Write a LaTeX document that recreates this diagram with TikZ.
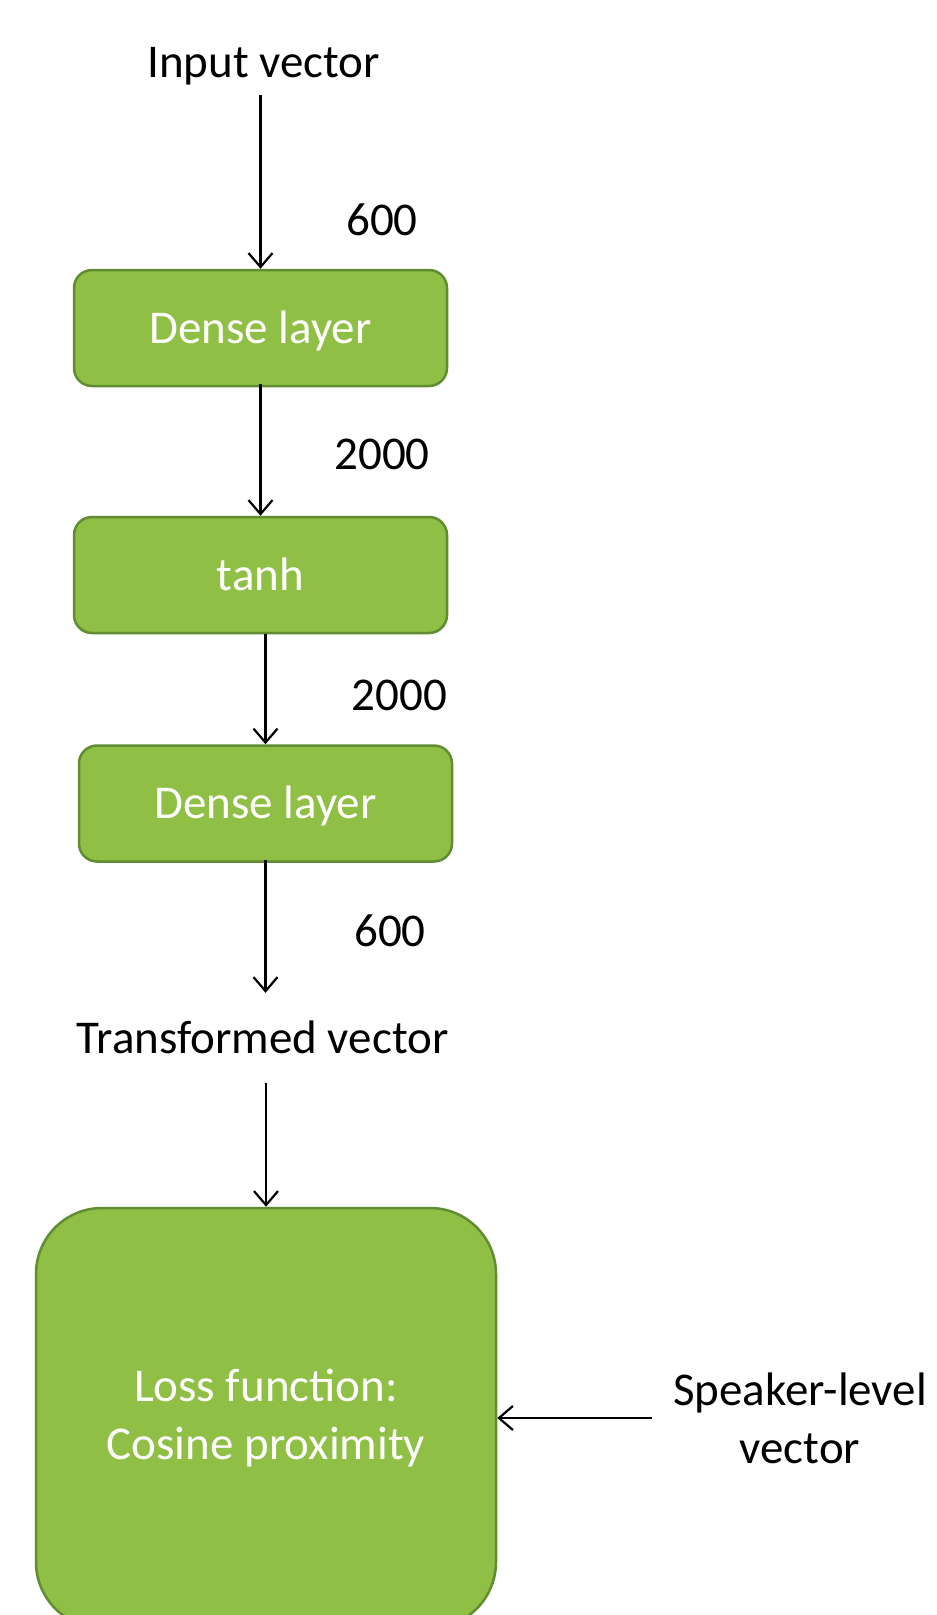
\documentclass[tikz,border=0pt]{standalone}
\usepackage{fontspec}
\setmainfont{Carlito}
\usetikzlibrary{arrows.meta}
\definecolor{boxfill}{RGB}{143,191,69}
\definecolor{boxline}{RGB}{96,140,50}
\tikzset{
  lbl/.style={font=\fontsize{47}{58}\selectfont, text=black, inner sep=0pt},
  greenbox/.style={draw=boxline, line width=2.5pt, fill=boxfill, rounded corners=18pt,
     minimum width=373pt, minimum height=116pt, inner sep=0pt,
     text height=30pt, text depth=0pt, text=white, font=\fontsize{47}{58}\selectfont},
  arr/.style={draw=black, line width=2.2pt, -{Straight Barb[length=14pt,width=24pt,line width=2.2pt]}}
}
\begin{document}
\begin{tikzpicture}[x=1pt,y=-1pt]
\useasboundingbox (0,0) rectangle (937,1615);
\clip (0,0) rectangle (937,1615);
\fill[white] (0,0) rectangle (937,1615);

\node[lbl, anchor=base, inner ysep=18pt, text depth=0pt] (input) at (263.6,77) {Input vector};
\node[greenbox] (box1) at (260.5,328) {Dense layer};
\node[greenbox] (box2) at (260.5,575) {tanh};
\node[greenbox] (box3) at (265.5,803.5) {Dense layer};
\node[lbl, anchor=base, inner ysep=30pt, text height=30pt, text depth=0pt] (trans) at (262.5,1053) {Transformed vector};
\node[draw=boxline, line width=2.5pt, fill=boxfill, rounded corners=66pt,
      minimum width=460pt, minimum height=420pt, inner sep=0pt, align=center,
      text=white, font=\fontsize{47}{58}\selectfont] (loss) at (266,1418) {Loss function:\\Cosine proximity};
\node[lbl, align=center, inner xsep=21pt] (speaker) at (800,1418) {Speaker-level\\vector};

\node[lbl, anchor=base] (n1) at (382,235) {600};
\node[lbl, anchor=base] (n2) at (382,469.5) {2000};
\node[lbl, anchor=base] (n3) at (399.5,710.5) {2000};
\node[lbl, anchor=base] (n4) at (390,946) {600};

\draw[arr] (input.south -| box1.north) -- (box1.north);
\draw[arr] ([yshift=3pt]box1.south) -- (box2.north);
\draw[arr] (box2.south -| box3.north) -- (box3.north);
\draw[arr] ([yshift=3pt]box3.south) -- (box3.south |- trans.north);
\draw[arr] (trans.south -| loss.north) -- (loss.north);
\draw[arr] (speaker.west |- loss.east) -- (loss.east);
\end{tikzpicture}
\end{document}
